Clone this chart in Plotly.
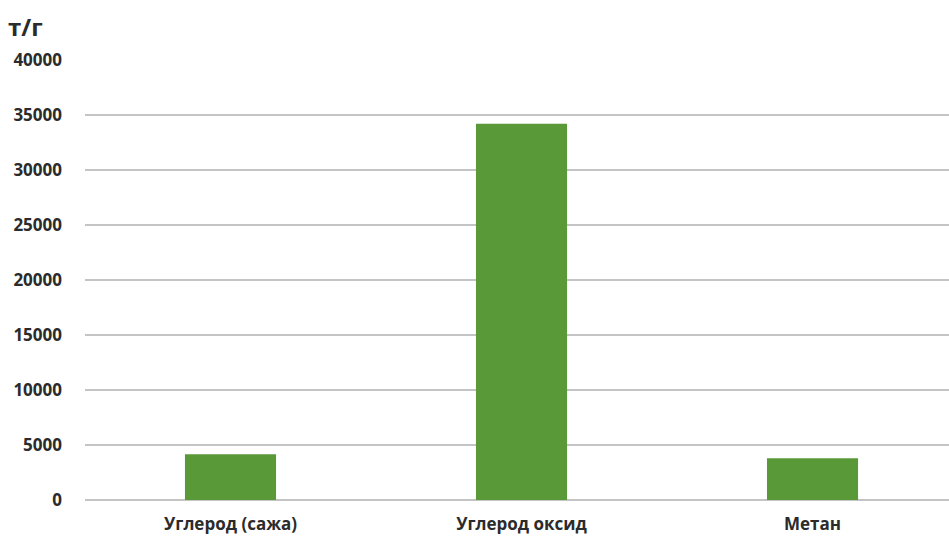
import plotly.graph_objects as go

categories = ["Углерод (сажа)", "Углерод оксид", "Метан"]
values = [4150, 34200, 3800]
y_ticks = [0, 5000, 10000, 15000, 20000, 25000, 30000, 35000, 40000]
unit_label = "т/г"

font_family = "Open Sans, Noto Sans, DejaVu Sans, sans-serif"
text_color = "#2b2b2b"

fig = go.Figure(
    go.Bar(
        x=categories,
        y=values,
        marker=dict(color="#5a9938", line=dict(width=0)),
    )
)

fig.update_layout(
    width=949,
    height=539,
    margin=dict(l=85, r=0, t=60, b=39, autoexpand=False),
    plot_bgcolor="white",
    paper_bgcolor="white",
    bargap=0.687,
    showlegend=False,
    font=dict(family=font_family, size=17, color=text_color, weight="bold"),
    xaxis=dict(
        range=[-0.5, 2.469],
        showgrid=False,
        showline=False,
        zeroline=False,
        ticks="",
        ticklabelstandoff=12,
        tickfont=dict(family=font_family, size=17, color=text_color, weight="bold"),
        automargin=False,
    ),
    yaxis=dict(
        range=[0, 40000],
        tickvals=y_ticks,
        ticktext=[str(v) for v in y_ticks],
        showgrid=True,
        gridcolor="#c4c4c4",
        gridwidth=2,
        zeroline=True,
        zerolinecolor="#c4c4c4",
        zerolinewidth=2,
        showline=False,
        ticks="",
        ticklabelstandoff=22,
        tickfont=dict(family=font_family, size=17, color=text_color, weight="bold"),
        automargin=False,
    ),
    annotations=[
        dict(
            text=unit_label,
            xref="paper",
            yref="paper",
            x=-85 / 864,
            y=1 + 15 / 440,
            xanchor="left",
            yanchor="bottom",
            xshift=6,
            showarrow=False,
            font=dict(family=font_family, size=24, color=text_color, weight="bold"),
        )
    ],
)

fig.write_html("out.html")
